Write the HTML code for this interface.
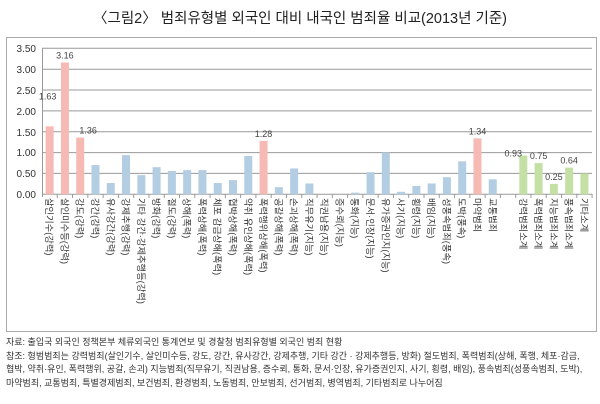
<!DOCTYPE html>
<html><head><meta charset="utf-8"><style>
body{margin:0;width:600px;height:404px;background:#fff;overflow:hidden;font-family:"Liberation Sans","Noto Sans CJK KR",sans-serif;}
.t{position:absolute;left:0;width:600px;top:7px;text-align:center;font-size:14.5px;color:#222;}
.f{position:absolute;left:6px;top:336px;font-size:9px;line-height:13.5px;color:#333;white-space:nowrap;}
</style></head><body>
<div class="t">〈그림2〉 범죄유형별 외국인 대비 내국인 범죄율 비교(2013년 기준)</div>
<svg width="600" height="404" style="position:absolute;left:0;top:0" font-family="Liberation Sans, Noto Sans CJK KR, sans-serif">
<rect x="6.5" y="37.5" width="590" height="294" fill="none" stroke="#aaa"/>
<g stroke="#999" stroke-width="1">
<line x1="42" x2="592" y1="48.3" y2="48.3"/><line x1="42" x2="592" y1="69.2" y2="69.2"/>
<line x1="42" x2="592" y1="90" y2="90"/><line x1="42" x2="592" y1="110.9" y2="110.9"/>
<line x1="42" x2="592" y1="131.7" y2="131.7"/><line x1="42" x2="592" y1="152.6" y2="152.6"/>
<line x1="42" x2="592" y1="173.4" y2="173.4"/><line x1="42" x2="592" y1="194.3" y2="194.3"/>
<line x1="42.5" x2="42.5" y1="48" y2="197"/>
</g>
<g font-size="10" fill="#333" text-anchor="end">
<text x="36" y="52">3.50</text><text x="36" y="73">3.00</text><text x="36" y="94">2.50</text><text x="36" y="115">2.00</text><text x="36" y="136">1.50</text><text x="36" y="156">1.00</text><text x="36" y="177">0.50</text><text x="36" y="198">0.00</text>
</g>
<g id="bars"></g>
<g id="labels" font-size="9.3" fill="#333"></g>
<g id="vals" font-size="9" fill="#444" text-anchor="middle"></g>
</svg>
<div class="f">자료: 출입국 외국인 정책본부 체류외국인 통계연보 및 경찰청 범죄유형별 외국인 범죄 현황<br>참조: 형범범죄는 강력범죄(살인기수, 살인미수등, 강도, 강간, 유사강간, 강제추행, 기타 강간 · 강제추행등, 방화) 절도범죄, 폭력범죄(상해, 폭행, 체포·감금,<br>협박, 약취·유인, 폭력행위, 공갈, 손괴) 지능범죄(직무유기, 직권남용, 증수뢰, 통화, 문서·인장, 유가증권인지, 사기, 횡령, 배임), 풍속범죄(성풍속범죄, 도박),<br>마약범죄, 교통범죄,  특별경제범죄, 보건범죄, 환경범죄, 노동범죄, 안보범죄, 선거범죄, 병역범죄, 기타범죄로 나누어짐</div>
<script>
var d=[["살인기수(강력)",1.63,"r",1],["살인미수등(강력)",3.16,"r",1],["강도(강력)",1.36,"r",1],["강간(강력)",0.70],["유사강간(강력)",0.27],["강제추행(강력)",0.94],["기타 강간·강제추행등(강력)",0.46],["방화(강력)",0.65],["절도(강력)",0.56],["상해(폭력)",0.58],["폭력상해(폭력)",0.58],["체포 감금상해(폭력)",0.27],["협박상해(폭력)",0.34],["약취 유인상해(폭력)",0.92],["폭력행위상해(폭력)",1.28,"r",1],["공갈상해(폭력)",0.17],["손괴상해(폭력)",0.62],["직무유기(지능)",0.26],["직권남용(지능)",0],["증수뢰(지능)",0],["통화(지능)",0.04],["문서·인장(지능)",0.53],["유가증권인지(지능)",1.0],["사기(지능)",0.06],["횡령(지능)",0.2],["배임(지능)",0.26],["성풍속범죄(풍속)",0.41],["도박(풍속)",0.79],["마약범죄",1.34,"r",1],["교통범죄",0.36],["",null],["강력범죄소계",0.93,"g",1],["폭력범죄소계",0.75,"g",1],["지능범죄소계",0.25,"g",1],["풍속범죄소계",0.64,"g",1],["기타소계",0.5,"g"]];
var b="",l="",v="",c={r:"#f6b9b3",g:"#c5e0a5",u:"#b3cde3"};
d.forEach(function(e,i){var x=42+15.28*(i+0.5);
b+='<line x1="'+(42+15.28*(i+1))+'" x2="'+(42+15.28*(i+1))+'" y1="194" y2="198" stroke="#999"/>';
if(e[1]!==null){var h=e[1]*41.7,y=194.3-h;b+='<rect x="'+(x-4)+'" y="'+y+'" width="8" height="'+h+'" fill="'+c[e[2]||"u"]+'"/>';
if(e[3]){var tx=x,ty=y-4;if(i==0){ty=y-27;tx=x-2}if(i==2)tx=x+8;if(i==31){tx=x-10;ty=y+1}v+='<text x="'+tx+'" y="'+ty+'">'+e[1].toFixed(2)+'</text>';}}
if(e[0])l+='<text transform="translate('+(x-3.5)+',198) rotate(90)">'+e[0]+'</text>';});
document.getElementById("bars").innerHTML=b;document.getElementById("labels").innerHTML=l;document.getElementById("vals").innerHTML=v;
</script>
</body></html>
